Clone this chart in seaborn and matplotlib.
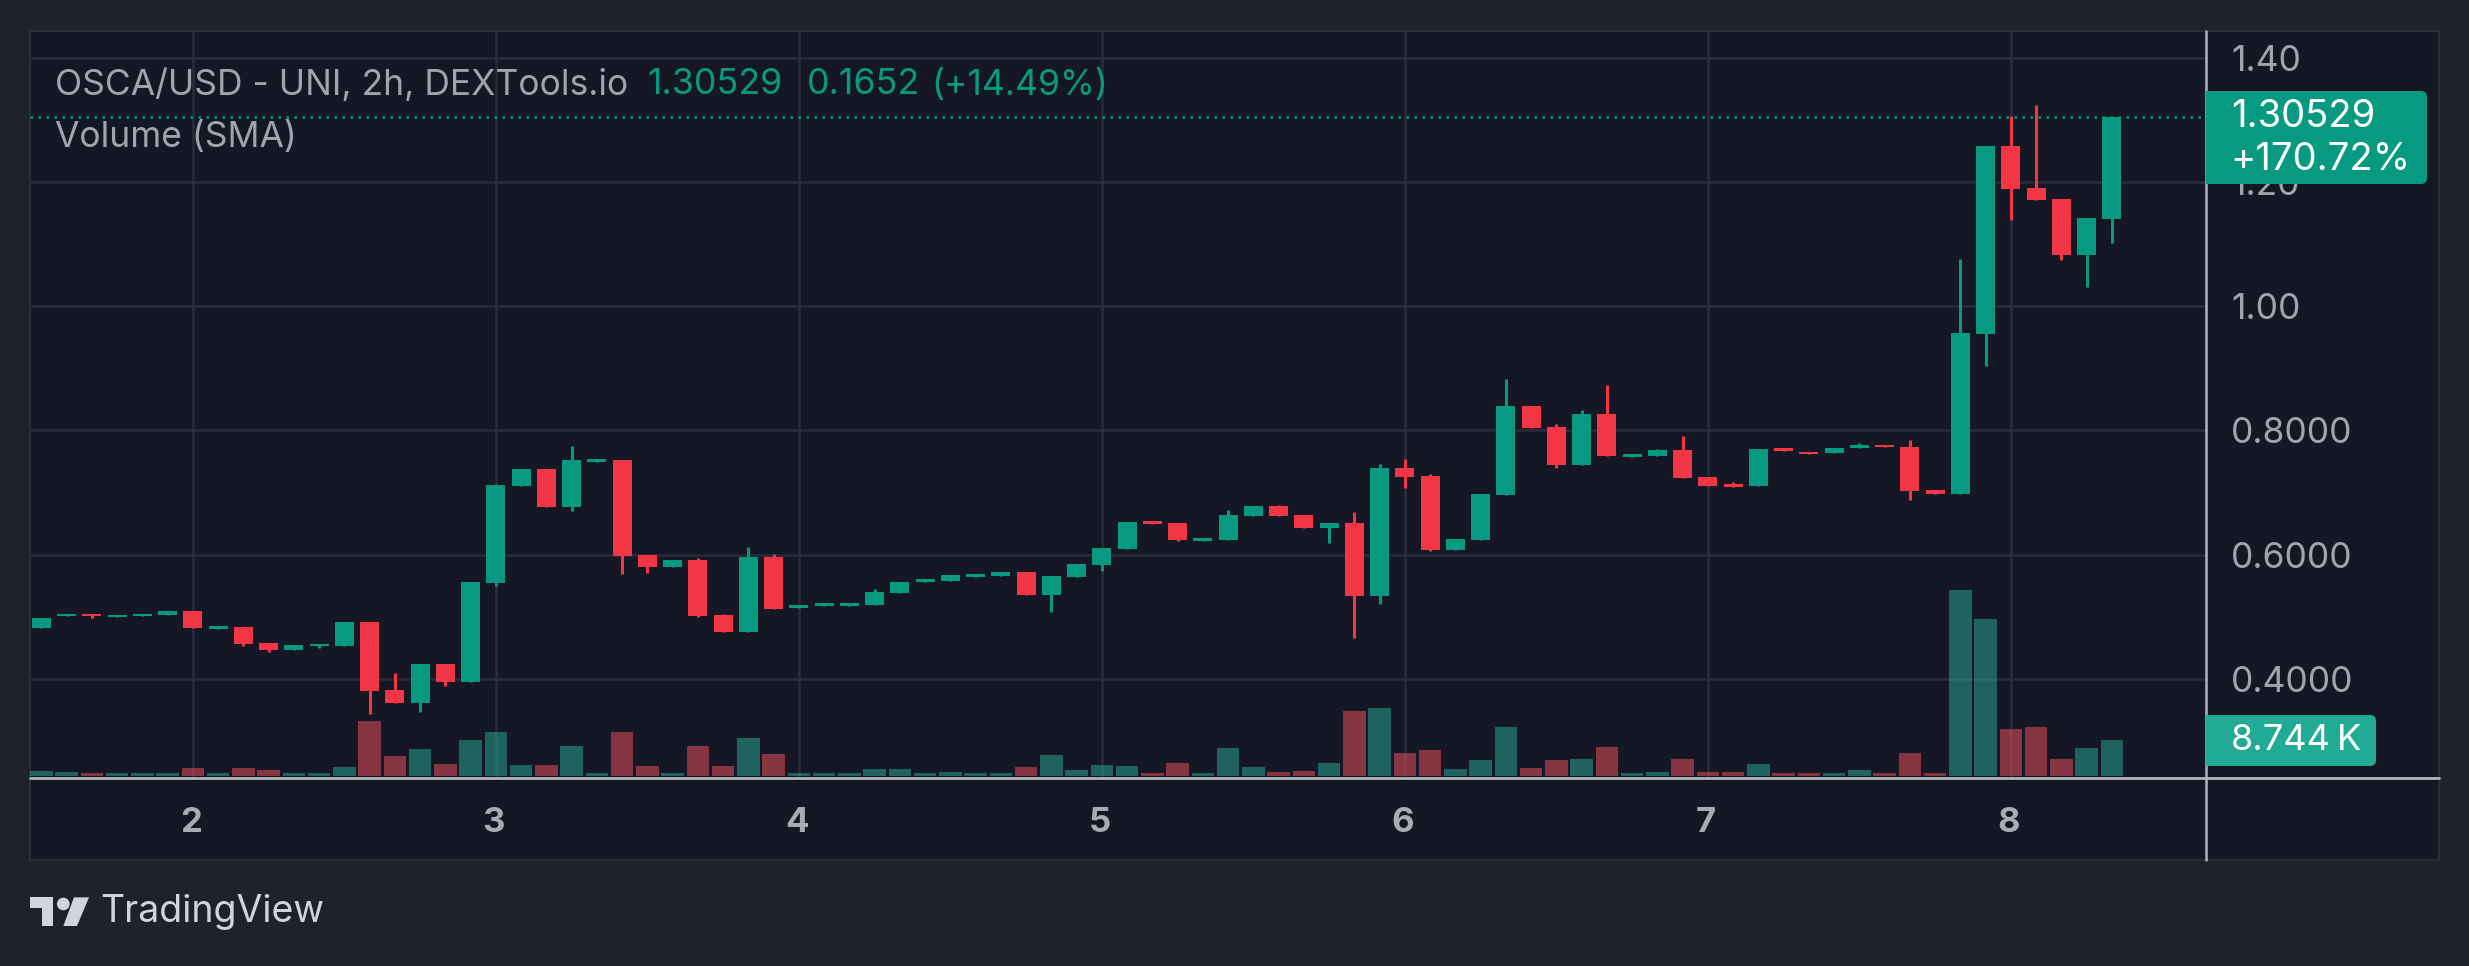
import matplotlib
matplotlib.use("Agg")
import matplotlib.pyplot as plt
import pandas as pd
import seaborn as sns
from matplotlib.lines import Line2D
from matplotlib.patches import Rectangle, FancyBboxPatch, Polygon, Circle
from matplotlib.transforms import IdentityTransform, ScaledTranslation

# ---------- data ----------
open_ = [.4815,.5004,.5045,.4988,.5004,.5021,.5086,.4807,.4832,.4577,
         .4462,.4519,.4527,.4914,.3821,.3607,.4240,.3944,.5539,.7100,
         .7380,.6763,.7487,.7520,.5991,.5802,.5908,.5029,.4749,.5958,
         .5144,.5170,.5170,.5187,.5380,.5557,.5573,.5638,.5654,.5718,
         .5348,.5638,.5831,.6089,.6540,.6507,.6217,.6234,.6620,.6781,
         .6636,.6427,.6507,.5331,.7394,.7265,.6072,.6234,.6962,.8391,
         .8054,.7439,.8262,.7568,.7587,.7687,.7250,.7131,.7101,.7707,
         .7657,.7637,.7716,.7766,.7726,.7032,.6972,.9552,1.2578,1.1903,
         1.1725,1.0822,1.1407]
close = [.4980,.5045,.5004,.5029,.5045,.5086,.4815,.4848,.4560,.4462,
         .4544,.4560,.4914,.3804,.3607,.4240,.3944,.5555,.7117,.7380,
         .6763,.7520,.7536,.5974,.5802,.5908,.5012,.4749,.5958,.5119,
         .5187,.5219,.5219,.5396,.5557,.5605,.5670,.5686,.5718,.5348,
         .5654,.5847,.6105,.6524,.6491,.6234,.6266,.6636,.6781,.6620,
         .6427,.6507,.5331,.7394,.7249,.6072,.6250,.6975,.8391,.8034,
         .7439,.8262,.7587,.7617,.7687,.7230,.7101,.7091,.7697,.7667,
         .7617,.7707,.7766,.7726,.7022,.6972,.9562,1.2578,1.1884,1.1705,
         1.0822,1.1417,1.30529]
high = [.4980,.5045,.5045,.5029,.5045,.5086,.5086,.4848,.4832,.4577,
        .4544,.4560,.4914,.4914,.4092,.4240,.4240,.5555,.7133,.7380,
        .7380,.7750,.7536,.7520,.5991,.5908,.5941,.5045,.6122,.6007,
        .5187,.5219,.5219,.5444,.5557,.5605,.5670,.5686,.5718,.5718,
        .5654,.5847,.6105,.6524,.6540,.6507,.6266,.6717,.6781,.6797,
        .6636,.6507,.6685,.7458,.7538,.7297,.6250,.6975,.8828,.8391,
        .8103,.8322,.8728,.7617,.7697,.7905,.7250,.7171,.7697,.7707,
        .7657,.7707,.7796,.7766,.7845,.7032,1.0762,1.2578,1.3054,1.3243,
        1.1725,1.1417,1.30529]
low = [.4815,.5004,.4980,.4988,.5004,.5021,.4815,.4807,.4527,.4429,
       .4462,.4495,.4527,.3434,.3607,.3459,.3878,.3944,.5489,.7100,
       .6763,.6698,.7487,.5687,.5703,.5802,.4996,.4749,.4749,.5119,
       .5144,.5170,.5170,.5187,.5380,.5557,.5573,.5638,.5654,.5348,
       .5074,.5638,.5734,.6089,.6491,.6217,.6217,.6234,.6620,.6620,
       .6427,.6185,.4655,.5203,.7071,.6056,.6072,.6234,.6962,.8034,
       .7389,.7439,.7587,.7568,.7587,.7230,.7101,.7091,.7101,.7667,
       .7617,.7637,.7716,.7726,.6883,.6972,.6972,.9036,1.1387,1.1705,
       1.0743,1.0306,1.1020]
volume = [1224,980,735,735,735,735,1960,735,1960,1470,
          735,735,2200,13220,4770,6490,2940,8690,10530,2690,
          2690,7220,735,10530,2450,735,7220,2450,9180,5260,
          720,720,720,1680,1680,720,960,720,720,2160,
          5040,1440,2640,2400,720,3120,720,6720,2160,960,
          1200,3120,15600,16320,5520,6240,1680,3840,11800,1920,
          3850,4100,6950,740,1035,4140,1035,1035,2960,740,
          740,740,1480,740,5620,740,44670,37570,11390,11830,
          4140,6800,8744]
day_labels = ["2", "3", "4", "5", "6", "7", "8"]
day_bars = [6, 18, 30, 42, 54, 66, 78]
price_ticks = [0.4, 0.6, 0.8, 1.0, 1.2, 1.4]
price_tick_labels = ["0.4000", "0.6000", "0.8000", "1.00", "1.20", "1.40"]
last_price = 1.30529

BG, PANEL, GRID, EDGE = "#1e222d", "#151824", "#2a2c38", "#2a2e39"
UP, DOWN, AXIS, TXT = "#089981", "#f23645", "#b2b5be", "#a2a4ad"
VOL_UP, VOL_DOWN = "#27ae9a", "#f95060"
FONT = ["Inter", "DejaVu Sans"]

sns.set_theme(style="dark")
plt.rcParams["font.family"] = FONT

W, H = 2469, 966
fig = plt.figure(figsize=(W / 100, H / 100), dpi=100, facecolor=BG)

L, R, T, B = 30, 2206, 31, 778  # plot area in pixels
ax = fig.add_axes([L / W, 1 - B / H, (R - L) / W, (B - T) / H])
ax.set_facecolor("none")

df = pd.DataFrame({"i": range(len(open_)), "open": open_, "close": close,
                   "high": high, "low": low, "volume": volume})
df["up"] = df["close"] >= df["open"]
df["bottom"] = df[["open", "close"]].min(axis=1)
df["body"] = (df["open"] - df["close"]).abs()

# wicks
for up, col in [(True, UP), (False, DOWN)]:
    sub = df[df["up"] == up]
    ax.vlines(sub["i"], sub["low"], sub["high"], color=col, lw=2.2, zorder=3)
# candle bodies
for up, col in [(True, UP), (False, DOWN)]:
    sub = df[df["up"] == up].sort_values("i")
    sns.barplot(data=sub, x="i", y="body", bottom=sub["bottom"].to_numpy(),
                native_scale=True, color=col, saturation=1, width=0.75,
                errorbar=None, ax=ax, zorder=4, linewidth=0)

ax_vol = ax.twinx()
ax_vol.set_facecolor("none")
for up, col in [(True, VOL_UP), (False, VOL_DOWN)]:
    sub = df[df["up"] == up].sort_values("i")
    sns.barplot(data=sub, x="i", y="volume", native_scale=True, color=col,
                saturation=1, width=0.89, errorbar=None, ax=ax_vol,
                alpha=0.5, linewidth=0)

# scales
ax.set_xlim(-0.4475, 85.73)
ax.set_ylim(0.6 + (554.5 - B) / 621, 0.6 + (554.5 - T) / 621)
ax_vol.set_ylim(-480, 178800)
ax_vol.yaxis.set_visible(False)
for s in list(ax.spines.values()) + list(ax_vol.spines.values()):
    s.set_visible(False)

ax.set_xticks(day_bars, day_labels)
ax.set_yticks(price_ticks, price_tick_labels)
ax.yaxis.tick_right()
ax.set_xlabel("")
ax.set_ylabel("")
ax.tick_params(axis="y", length=0, pad=18, labelsize=25.5, labelcolor=TXT, right=False)
ax.tick_params(axis="x", length=0, pad=21, labelsize=25, labelcolor="#a9abb3", bottom=False)
shift = ScaledTranslation(-2 / 100, 0, fig.dpi_scale_trans)
for t in ax.get_xticklabels():
    t.set_fontweight("bold")
    t.set_transform(t.get_transform() + shift)
ax.grid(True, color=GRID, lw=1.8, zorder=0)
ax.set_axisbelow(True)
ax.axhline(last_price, color=UP, lw=1.8, ls=(0, (1.0, 2.2)), zorder=2)

# ---------- chrome, in pixel coordinates ----------
px = IdentityTransform()
def Y(y):
    return H - y

fig.add_artist(Rectangle((L, Y(860)), 2439 - L, 860 - T, transform=px, facecolor=PANEL,
                         edgecolor=EDGE, lw=1.5, zorder=-1))
fig.add_artist(Line2D([R, R], [Y(T), Y(860)], transform=px, color=AXIS, lw=1.8, zorder=3))
fig.add_artist(Line2D([L, 2439], [Y(778), Y(778)], transform=px, color=AXIS, lw=2.0, zorder=3))

def badge(x0, x1, y0, y1, col):
    fig.add_artist(FancyBboxPatch((x0 + 8, Y(y1) + 6), x1 - x0 - 14, y1 - y0 - 12, transform=px,
                                  boxstyle="round,pad=6,rounding_size=6", facecolor=col,
                                  edgecolor="none", zorder=5))
    fig.add_artist(Rectangle((x0, Y(y1)), 20, y1 - y0, transform=px, facecolor=col,
                             edgecolor="none", zorder=5))

def label(x, y, s, col, size, **kw):
    fig.text(x, Y(y), s, transform=px, color=col, fontsize=size, va="center", ha="left",
             zorder=6, **kw)

badge(R, 2427, 91, 184, UP)
badge(R, 2376, 715, 766, "#22ab94")
label(2231, 117, "1.30529", "white", 27.5)
label(2230, 160, "+170.72%", "white", 27.5)
label(2231, 741, "8.744", "white", 26)
label(2337, 741, "K", "white", 26)

label(55, 85, "OSCA/USD - UNI, 2h, DEXTools.io", TXT, 25.5)
label(647, 85, "1.30529", UP, 25.8)
label(807, 85, "0.1652", UP, 25.8)
label(931, 85, "(+14.49%)", UP, 25.6)
label(55, 137, "Volume (SMA)", TXT, 25.5)

# TradingView logo
LOGO = "#d1d4dc"
def lp(x, y):
    return (x / 3, Y(780 + y / 3))
fig.add_artist(Polygon([lp(90, 352), lp(160, 352), lp(160, 438), lp(125, 438), lp(125, 385), lp(90, 385)],
                       transform=px, facecolor=LOGO, edgecolor="none", zorder=5))
fig.add_artist(Circle(lp(190, 372), 19 / 3, transform=px, facecolor=LOGO, edgecolor="none", zorder=5))
fig.add_artist(Polygon([lp(222, 352), lp(267, 352), lp(231, 438), lp(190, 438)],
                       transform=px, facecolor=LOGO, edgecolor="none", zorder=5))
label(100, 912, "TradingView", LOGO, 27)

fig.savefig("out.png", dpi=100, facecolor=BG)
